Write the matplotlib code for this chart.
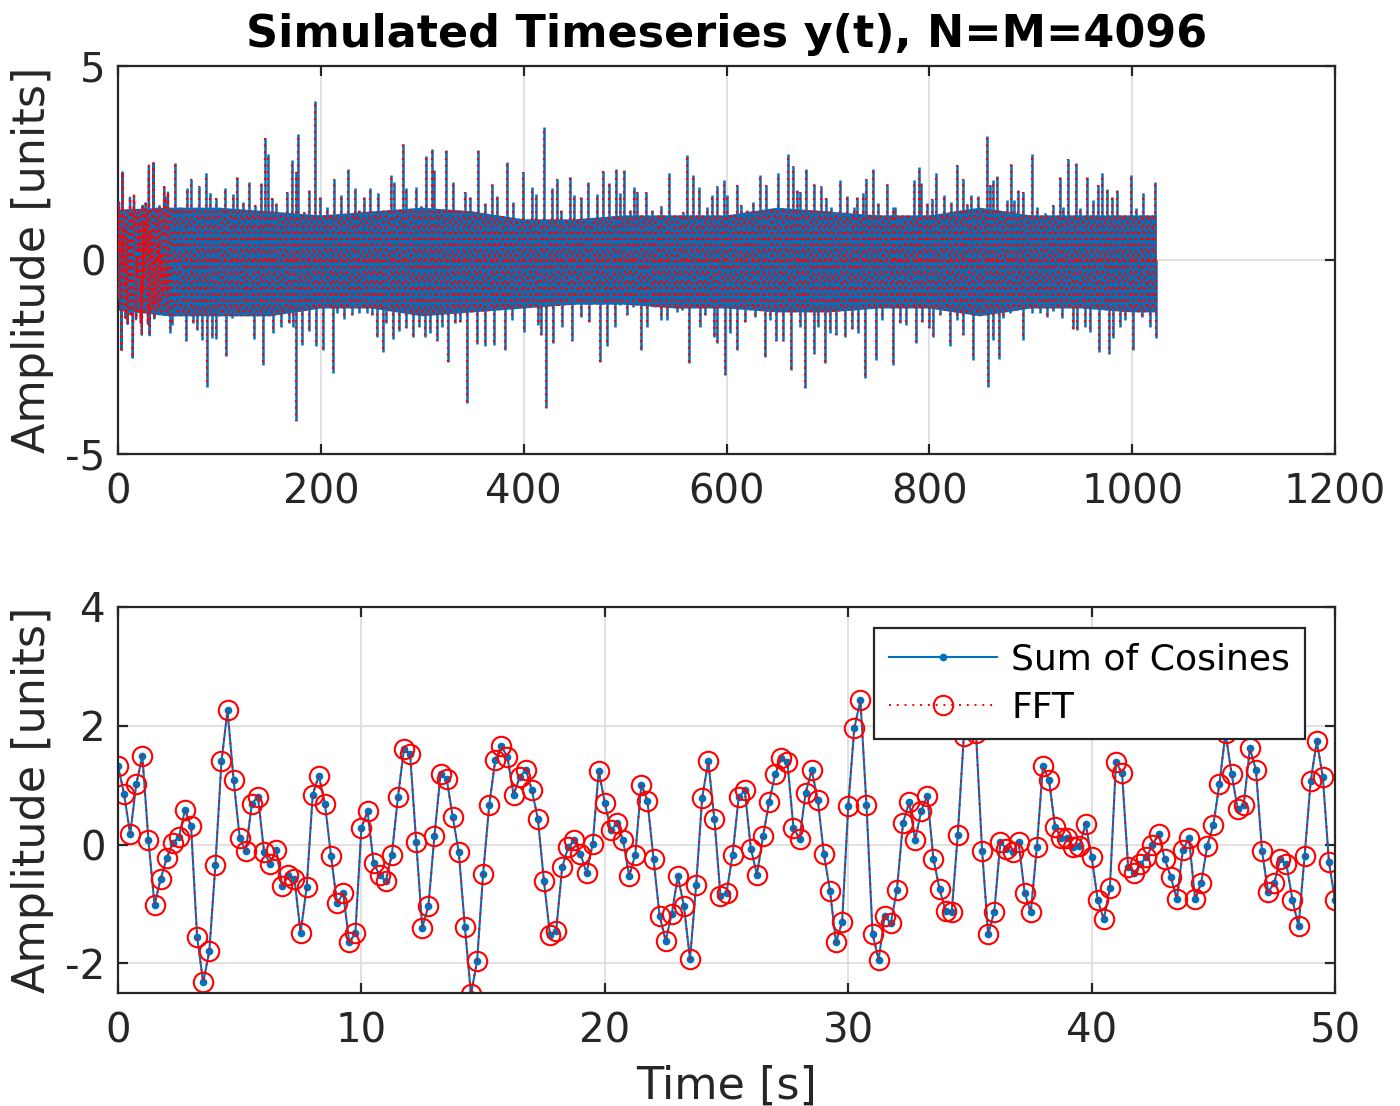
import numpy as np
import matplotlib
matplotlib.use("Agg")
import matplotlib.pyplot as plt

# first 50 s of the record, sampled every dt = 1024/4096 s
dt = 0.25
y_zoom = [
    1.32, 0.85, 0.17, 1.02, 1.49, 0.07, -1.02, -0.58, -0.23, 0.03,
    0.12, 0.58, 0.31, -1.56, -2.32, -1.80, -0.35, 1.40, 2.26, 1.08,
    0.11, -0.11, 0.69, 0.80, -0.12, -0.33, -0.09, -0.70, -0.52, -0.58,
    -1.49, -0.72, 0.84, 1.16, 0.69, -0.19, -0.99, -0.82, -1.65, -1.49,
    0.28, 0.56, -0.31, -0.52, -0.62, -0.17, 0.80, 1.61, 1.52, 0.04,
    -1.40, -1.04, 0.15, 1.18, 1.11, 0.47, -0.13, -1.39, -2.52, -1.97,
    -0.49, 0.66, 1.43, 1.66, 1.47, 0.84, 1.13, 1.26, 0.92, 0.43,
    -0.62, -1.53, -1.45, -0.38, -0.04, 0.07, -0.16, -0.48, 0.01, 1.24,
    0.70, 0.24, 0.36, 0.07, -0.53, -0.17, 1.01, 0.74, -0.24, -1.20,
    -1.62, -1.17, -0.53, -1.04, -1.93, -0.69, 0.79, 1.40, 0.43, -0.86,
    -0.81, -0.17, 0.80, 0.91, -0.07, -0.51, 0.14, 0.72, 1.18, 1.46,
    1.39, 0.28, 0.10, 0.87, 1.25, 0.75, -0.16, -0.78, -1.65, -1.30,
    0.65, 1.96, 2.43, 0.66, -1.51, -1.94, -1.20, -1.33, -0.76, 0.36,
    0.71, 0.08, 0.57, 0.82, -0.24, -0.75, -1.12, -1.14, 0.16, 1.83,
    2.50, 1.87, -0.11, -1.51, -1.13, 0.04, -0.07, -0.13, 0.04, -0.82,
    -1.14, -0.04, 1.33, 1.08, 0.29, 0.11, 0.11, -0.04, -0.03, 0.35,
    -0.21, -0.93, -1.26, -0.73, 1.39, 1.20, -0.38, -0.48, -0.33, -0.21,
    -0.01, 0.18, -0.24, -0.54, -0.92, -0.09, 0.11, -0.92, -0.65, -0.02,
    0.33, 1.02, 1.88, 1.19, 0.60, 0.67, 1.62, 1.26, -0.11, -0.80,
    -0.65, -0.24, -0.33, -0.93, -1.38, -0.19, 1.07, 1.74, 1.13, -0.30,
    -0.94,
]
t_zoom = np.arange(len(y_zoom)) * dt

# rest of the record (50-1024 s): spike tips and troughs
peak_t = [
    55.9, 61.2, 67.8, 72.0, 80.3, 86.5, 90.8, 96.7, 105.6, 113.8, 117.8, 123.0,
    129.6, 135.2, 140.8, 145.4, 148.0, 152.0, 155.9, 167.1, 171.4, 175.0, 177.3,
    182.9, 188.8, 194.1, 198.7, 205.9, 212.5, 219.7, 226.3, 233.9, 237.5, 242.1,
    248.7, 256.7, 268.9, 272.2, 280.7, 283.7, 293.9, 298.5, 303.7, 309.6, 311.6,
    316.9, 323.4, 330.7, 336.6, 342.2, 347.1, 355.3, 361.9, 368.8, 373.4, 383.3,
    389.2, 399.0, 407.9, 412.2, 420.1, 427.6, 432.6, 436.5, 445.7, 449.7, 456.2,
    463.8, 472.0, 478.6, 484.5, 490.7, 495.0, 499.3, 504.9, 508.7, 512.0, 520.6,
    526.2, 535.0, 543.6, 556.7, 561.3, 566.6, 572.5, 581.1, 585.7, 590.3, 597.5,
    600.8, 610.0, 613.9, 620.5, 626.4, 633.0, 638.9, 651.1, 660.9, 665.2, 669.2,
    672.4, 678.4, 686.2, 692.8, 698.1, 702.7, 711.9, 719.1, 725.7, 729.0, 734.2,
    737.5, 744.1, 749.7, 758.6, 764.5, 766.1, 771.1, 777.6, 784.9, 789.8, 791.4,
    798.0, 802.3, 806.2, 814.5, 821.0, 827.6, 832.9, 837.5, 841.1, 848.3, 856.5,
    859.8, 863.1, 866.4, 876.2, 880.2, 883.5, 887.8, 892.7, 900.9, 905.8, 914.0,
    922.3, 928.8, 932.1, 937.1, 944.6, 948.6, 955.1, 961.7, 966.6, 969.9, 974.9,
    979.8, 984.7, 991.3, 998.5, 1003.8, 1011.0, 1016.9, 1022.5,
]
peak_v = [
    2.51, 1.37, 1.85, 2.08, 1.91, 2.25, 1.74, 1.59, 1.85, 1.70, 2.13, 1.50,
    2.02, 1.42, 1.98, 3.14, 2.72, 1.59, 1.46, 1.76, 2.58, 2.28, 3.26,
    1.25, 1.80, 4.11, 1.62, 1.37, 2.10, 1.68, 2.34, 1.85, 1.29, 1.63,
    1.85, 1.74, 2.19, 2.02, 2.99, 1.85, 1.88, 1.39, 2.68, 2.85, 2.32,
    1.30, 2.84, 2.02, 1.29, 1.76, 1.63, 2.84, 1.46, 1.97, 1.65, 2.53,
    1.50, 2.27, 1.87, 1.70, 3.44, 1.85, 2.10, 1.29, 2.13, 1.67, 1.63,
    2.02, 1.70, 2.30, 1.99, 2.34, 1.72, 2.32, 1.29, 1.89, 1.76, 1.76,
    1.29, 1.39, 2.23, 1.25, 2.71, 2.19, 1.89, 1.37, 1.67, 1.91, 2.06,
    1.67, 1.93, 1.42, 1.29, 1.50, 2.19, 1.93, 2.25, 2.73, 2.42, 1.80,
    1.76, 2.34, 1.97, 1.91, 1.59, 1.37, 2.06, 1.65, 1.37, 1.63, 1.74,
    2.10, 2.34, 1.48, 1.97, 1.37, 1.37, 1.07, 1.03, 2.06, 2.41, 1.99,
    1.46, 1.56, 2.23, 1.67, 1.50, 2.45, 2.10, 1.44, 1.67, 1.65, 3.20,
    1.93, 2.06, 2.17, 1.55, 2.47, 1.55, 1.80, 1.76, 2.73, 1.37, 1.20,
    1.42, 2.13, 1.37, 2.61, 2.51, 1.33, 2.13, 1.55, 1.93, 2.23, 1.82,
    1.63, 1.80, 1.12, 2.19, 1.33, 1.72, 1.12, 2.02,
]
trough_t = [
    51.3, 53.6, 57.9, 66.8, 73.7, 78.3, 82.9, 88.2, 93.1, 96.7, 106.9, 112.8,
    118.1, 127.0, 134.5, 142.8, 146.7, 153.3, 160.5, 168.1, 172.7, 175.7, 181.9,
    188.8, 195.1, 202.6, 211.5, 215.8, 223.0, 230.6, 237.2, 245.4, 250.3, 255.1,
    261.6, 264.3, 270.9, 277.4, 284.0, 291.2, 297.1, 302.7, 307.7, 314.2, 319.5,
    325.4, 332.3, 337.2, 343.8, 354.3, 361.9, 370.8, 381.6, 388.2, 400.4, 414.5,
    416.8, 422.1, 429.3, 437.5, 447.4, 456.2, 464.8, 475.3, 482.5, 490.1, 495.0,
    502.3, 507.4, 515.3, 521.9, 529.5, 535.0, 541.6, 550.8, 555.7, 563.3, 573.8,
    578.8, 587.6, 590.9, 598.5, 603.4, 610.0, 618.2, 628.1, 637.6, 642.9, 648.8,
    656.0, 663.2, 672.4, 677.7, 686.2, 690.5, 697.4, 702.0, 707.9, 716.8, 723.4,
    730.0, 736.9, 747.4, 753.0, 763.8, 771.1, 777.0, 786.8, 792.4, 800.0, 803.9,
    810.5, 820.4, 826.9, 832.9, 842.7, 850.0, 857.8, 863.1, 869.0, 872.3, 879.5,
    892.7, 900.9, 909.1, 915.7, 922.3, 930.8, 941.3, 945.3, 953.5, 958.4, 967.6,
    977.5, 981.4, 988.0, 992.9, 1001.1, 1009.4, 1017.6, 1023.5,
]
trough_v = [
    -1.89, -1.68, -1.07, -2.10, -1.63, -1.80, -2.06, -3.26, -2.02, -2.04, -2.47, -1.50,
    -1.25, -1.33, -2.04, -2.71, -1.37, -1.89, -1.72, -1.63, -1.72, -4.14, -2.19,
    -1.82, -2.22, -2.32, -2.90, -1.37, -1.53, -1.42, -1.36, -1.37, -1.42, -1.98,
    -2.36, -1.63, -2.04, -1.82, -1.76, -1.98, -1.72, -1.98, -1.89, -2.10, -1.72,
    -2.62, -1.63, -1.59, -3.69, -2.17, -2.22, -2.19, -2.32, -1.55, -1.85, -1.68,
    -1.93, -3.82, -2.15, -1.72, -2.08, -1.46, -1.59, -2.62, -2.21, -1.72, -1.15,
    -1.42, -1.20, -2.32, -1.72, -1.20, -1.55, -1.55, -1.33, -1.29, -2.66, -1.72,
    -1.42, -1.98, -2.15, -2.96, -1.89, -2.32, -1.59, -1.46, -2.49, -1.55, -2.10,
    -2.10, -2.84, -1.72, -3.31, -2.41, -1.72, -2.66, -1.89, -1.93, -1.98, -1.79,
    -1.89, -3.05, -2.58, -1.55, -2.71, -1.63, -1.68, -2.13, -1.59, -1.76, -1.98,
    -1.42, -2.21, -1.55, -1.93, -2.58, -1.29, -3.26, -2.06, -2.56, -1.50, -1.37,
    -2.06, -1.37, -1.37, -1.46, -1.31, -1.50, -1.78, -1.80, -1.72, -1.85, -2.36,
    -2.41, -2.02, -1.72, -1.55, -2.32, -1.46, -1.72, -2.02,
]

# dense core of the record (where the trace looks solid), read every 50 s
band_t = [0, 50, 100, 150, 200, 250, 300, 350, 400, 450, 500, 550, 600,
          650, 700, 750, 800, 850, 900, 950, 1000, 1024]
band_hi = [1.3, 1.35, 1.35, 1.25, 1.15, 1.25, 1.35, 1.25, 1.05, 1.05, 1.15,
           1.15, 1.15, 1.35, 1.25, 1.15, 1.15, 1.35, 1.15, 1.15, 1.15, 1.15]
band_lo = [-1.3, -1.45, -1.45, -1.45, -1.25, -1.25, -1.45, -1.35, -1.25,
           -1.15, -1.15, -1.25, -1.25, -1.35, -1.35, -1.25, -1.25, -1.45,
           -1.25, -1.25, -1.35, -1.35]

BLUE = "#0072BD"
RED = "#FF0000"
AX = "#262626"

plt.rcParams.update({
    "font.family": "DejaVu Sans",
    "font.size": 29,
    "axes.unicode_minus": False,
    "axes.edgecolor": AX,
    "axes.linewidth": 1.6,
    "xtick.color": AX,
    "ytick.color": AX,
    "xtick.direction": "in",
    "ytick.direction": "in",
    "xtick.major.size": 7,
    "ytick.major.size": 7,
    "xtick.major.width": 1.6,
    "ytick.major.width": 1.6,
    "xtick.top": True,
    "ytick.right": True,
    "hatch.color": RED,
    "hatch.linewidth": 1.6,
})

fig = plt.figure(figsize=(14, 11.06), dpi=100)
ax1 = fig.add_axes([0.0843, 0.5895, 0.8693, 0.3508])
ax2 = fig.add_axes([0.0843, 0.1022, 0.8693, 0.3490])

for ax in (ax1, ax2):
    ax.grid(True, color="#dedede", lw=1.3)
    ax.set_axisbelow(True)
    ax.tick_params(axis="x", labelsize=29, pad=13, colors=AX)
    ax.tick_params(axis="y", labelsize=29, pad=9, colors=AX)
    ax.set_ylabel("Amplitude [units]", fontsize=32, color=AX, labelpad=8)

# top: whole record
ax1.fill_between(band_t, band_lo, band_hi, facecolor=BLUE, edgecolor=RED,
                 hatch="...", lw=0, zorder=2)
ext_t = peak_t + trough_t
ext_v = peak_v + trough_v
ax1.vlines(ext_t, 0, ext_v, color=BLUE, lw=1.8, zorder=3)
ax1.vlines(ext_t, 0, ext_v, color=RED, lw=1.6, linestyles=(0, (1, 2)), zorder=4)
ax1.plot(t_zoom, y_zoom, color=BLUE, lw=1.6, zorder=3)
ax1.plot(t_zoom, y_zoom, color=RED, lw=1.6, ls=(0, (1, 2)), zorder=4)
ax1.set_xlim(0, 1200)
ax1.set_ylim(-5, 5)
ax1.set_xticks(np.arange(0, 1201, 200))
ax1.set_yticks([-5, 0, 5])
ax1.set_title("Simulated Timeseries y(t), N=M=4096", fontsize=32,
              fontweight="bold", pad=14)

# bottom: first 50 s
ax2.plot(t_zoom, y_zoom, color=BLUE, lw=1.5, marker=".", ms=9,
         label="Sum of Cosines")
ax2.plot(t_zoom, y_zoom, color=RED, lw=1.4, ls=(0, (1, 3)), marker="o",
         ms=14, mfc="none", mec=RED, mew=1.5, label="FFT")
ax2.set_xlim(0, 50)
ax2.set_ylim(-2.5, 4)
ax2.set_xticks(np.arange(0, 51, 10))
ax2.set_yticks([-2, 0, 2, 4])
ax2.set_xlabel("Time [s]", fontsize=32, color=AX, labelpad=10)

leg = ax2.legend(loc="upper right", bbox_to_anchor=(0.975, 0.946),
                 borderaxespad=0, fontsize=26, fancybox=False,
                 framealpha=1, edgecolor=AX, handlelength=3.0,
                 handletextpad=0.4, borderpad=0.4, labelspacing=0.4)
leg.get_frame().set_linewidth(1.6)

fig.savefig("out.png", dpi=100)
